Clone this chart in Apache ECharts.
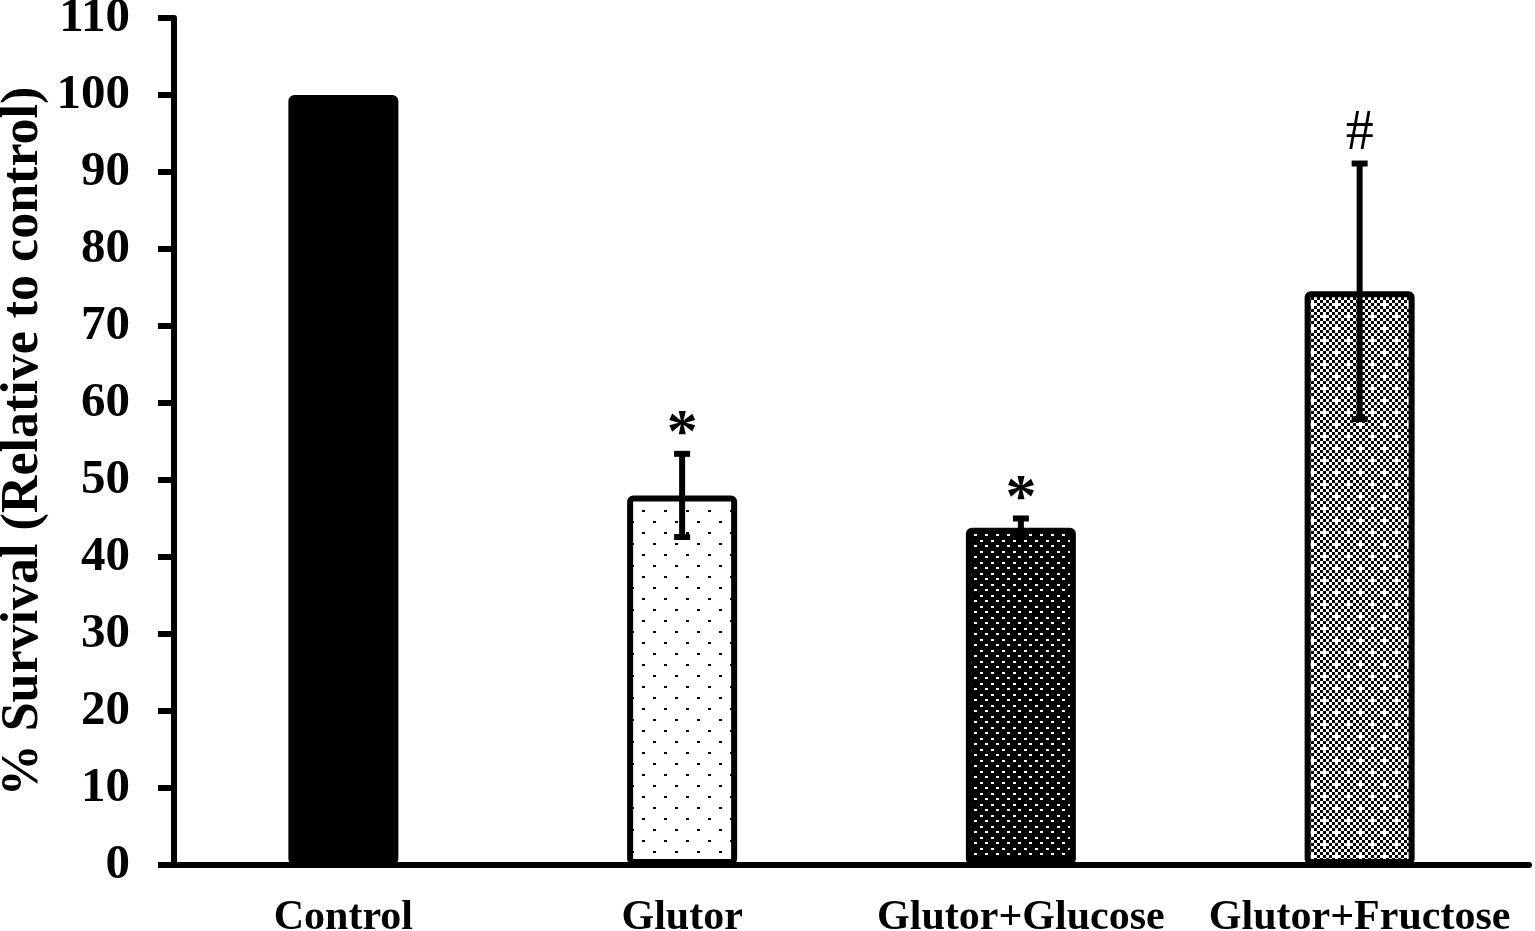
<!DOCTYPE html>
<html>
<head>
<meta charset="utf-8">
<script src="https://cdn.jsdelivr.net/npm/echarts@6/dist/echarts.min.js"></script>
<style>
html, body { margin: 0; padding: 0; background: #fff; }
#chart { width: 1535px; height: 931px; }
</style>
</head>
<body>
<div id="chart"></div>
<script>
var categories = ['Control', 'Glutor', 'Glutor+Glucose', 'Glutor+Fructose'];
var means = [100, 48.0, 43.8, 74.5];
var errors = [0, 5.4, 1.2, 16.6];
var marks = ['', '*', '*', '#'];
var yTicks = [0, 110, 10];

var FONT = '"Liberation Serif", "Times New Roman", serif';

function makeTile(w, h, draw) {
	var c = document.createElement('canvas');
	c.width = w;
	c.height = h;
	draw(c.getContext('2d'));
	return c;
}

// dotted white (Glutor)
var sparseDots = makeTile(22, 22, function(g) {
	g.fillStyle = '#fff';
	g.fillRect(0, 0, 22, 22);
	g.fillStyle = '#000';
	g.fillRect(4, 4, 3, 2);
	g.fillRect(15, 15, 3, 2);
});
// black with white dots (Glucose)
var denseDots = makeTile(11, 11, function(g) {
	g.fillStyle = '#000';
	g.fillRect(0, 0, 11, 11);
	g.fillStyle = '#fff';
	g.fillRect(1, 1, 3, 2);
	g.fillRect(6, 6, 3, 2);
});
// fine checker with white spots (Fructose)
var checker = makeTile(24, 24, function(g) {
	g.fillStyle = '#fff';
	g.fillRect(0, 0, 24, 24);
	g.fillStyle = '#000';
	for (var y = 0; y < 24; y += 3) {
		for (var x = 0; x < 24; x += 3) {
			if (((x + y) / 3) % 2 === 0) g.fillRect(x, y, 3, 3);
		}
	}
	g.fillStyle = '#fff';
	g.fillRect(3, 3, 5, 3);
	g.fillRect(15, 15, 5, 3);
});

var fills = [
	'#000',
	{ image: sparseDots, repeat: 'repeat' },
	{ image: denseDots, repeat: 'repeat' },
	{ image: checker, repeat: 'repeat' }
];

var barData = means.map(function(v, i) {
	return {
		value: v,
		itemStyle: { color: fills[i] }
	};
});

var errData = means.map(function(v, i) {
	return [i, v - errors[i], v + errors[i]];
});

var markFont = {
	'*': { font: 'bold 62px ' + FONT, dy: -19 },
	'#': { font: '56px ' + FONT, dy: -29 }
};

var chart = echarts.init(document.getElementById('chart'));

var option = {
	animation: false,
	grid: { left: 174, right: 6, top: 18, bottom: 66, outerBoundsMode: 'none', containLabel: false },
	xAxis: {
		type: 'category',
		data: categories,
		axisLine: { lineStyle: { color: '#000', width: 6 } },
		axisTick: { length: 13, lineStyle: { color: '#000', width: 6 } },
		axisLabel: {
			interval: 0,
			color: '#000',
			fontFamily: FONT,
			fontWeight: 'bold',
			fontSize: 42,
			margin: 32
		}
	},
	yAxis: {
		type: 'value',
		min: yTicks[0],
		max: yTicks[1],
		interval: yTicks[2],
		name: '% Survival (Relative to control)',
		nameLocation: 'middle',
		nameGap: 124,
		nameMoveOverlap: false,
		nameTextStyle: {
			color: '#000',
			fontFamily: FONT,
			fontWeight: 'bold',
			fontSize: 52
		},
		splitLine: { show: false },
		axisLine: { show: true, lineStyle: { color: '#000', width: 6 } },
		axisTick: { show: true, length: 16, lineStyle: { color: '#000', width: 6 } },
		axisLabel: {
			color: '#000',
			fontFamily: FONT,
			fontWeight: 'bold',
			fontSize: 49,
			margin: 44
		}
	},
	series: [
		{
			type: 'bar',
			barWidth: 110,
			data: barData,
			itemStyle: {
				borderColor: '#000',
				borderWidth: 6,
				borderRadius: 3
			}
		},
		{
			type: 'custom',
			data: errData,
			z: 5,
			renderItem: function(params, api) {
				var x = api.coord([api.value(0), 0])[0];
				var lo = api.coord([api.value(0), api.value(1)])[1];
				var hi = api.coord([api.value(0), api.value(2)])[1];
				var mark = marks[params.dataIndex];
				var kids = [];
				if (hi !== lo) {
					kids.push({
						type: 'line',
						shape: { x1: x, y1: lo, x2: x, y2: hi },
						style: { stroke: '#000', lineWidth: 6 }
					});
					kids.push({
						type: 'rect',
						shape: { x: x - 8, y: hi - 3, width: 16, height: 6 },
						style: { fill: '#000' }
					});
					kids.push({
						type: 'rect',
						shape: { x: x - 8, y: lo - 3, width: 16, height: 6 },
						style: { fill: '#000' }
					});
				}
				if (mark) {
					kids.push({
						type: 'text',
						style: {
							text: mark,
							x: x,
							y: hi + markFont[mark].dy,
							align: 'center',
							verticalAlign: 'middle',
							fill: '#000',
							font: markFont[mark].font
						}
					});
				}
				return { type: 'group', children: kids };
			}
		}
	]
};

chart.setOption(option);
</script>
</body>
</html>
